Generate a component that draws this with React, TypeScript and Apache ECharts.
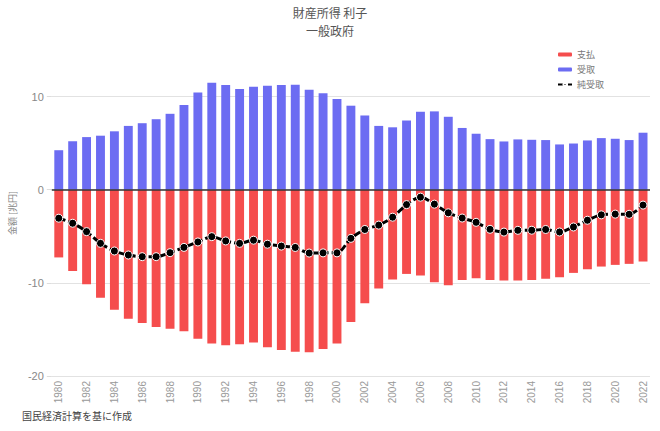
import React, { useEffect, useRef } from 'react';
import * as echarts from 'echarts';

const years = [
  '1980', '1981', '1982', '1983', '1984', '1985', '1986', '1987', '1988', '1989',
  '1990', '1991', '1992', '1993', '1994', '1995', '1996', '1997', '1998', '1999',
  '2000', '2001', '2002', '2003', '2004', '2005', '2006', '2007', '2008', '2009',
  '2010', '2011', '2012', '2013', '2014', '2015', '2016', '2017', '2018', '2019',
  '2020', '2021', '2022'
];

// 支払 (negative side)
const payments = [
  -7.27, -8.74, -10.14, -11.6, -12.88, -13.85, -14.3, -14.75, -14.93, -15.2,
  -16.0, -16.5, -16.7, -16.6, -16.4, -16.9, -17.2, -17.4, -17.45, -17.1,
  -16.5, -14.2, -12.2, -10.6, -9.64, -9.04, -9.2, -9.93, -10.25, -9.68,
  -9.5, -9.68, -9.75, -9.75, -9.7, -9.57, -9.39, -8.93, -8.54, -8.25,
  -8.07, -7.96, -7.71
];

// 受取
const receipts = [
  4.24, 5.2, 5.65, 5.8, 6.27, 6.85, 7.14, 7.57, 8.15, 9.1,
  10.43, 11.49, 11.23, 10.8, 11.05, 11.16, 11.23, 11.27, 10.72, 10.36,
  9.75, 9.02, 7.97, 6.85, 6.7, 7.43, 8.37, 8.41, 7.83, 6.63,
  6.01, 5.43, 5.18, 5.4, 5.36, 5.33, 4.86, 4.96, 5.29, 5.54,
  5.47, 5.33, 6.12
];

// 純受取
const net = [
  -3.06, -3.6, -4.5, -5.76, -6.58, -7.01, -7.19, -7.19, -6.76, -6.19,
  -5.61, -5.04, -5.5, -5.76, -5.42, -5.85, -6.05, -6.2, -6.8, -6.78,
  -6.78, -5.22, -4.27, -3.8, -2.95, -1.6, -0.8, -1.55, -2.48, -3.04,
  -3.5, -4.25, -4.55, -4.36, -4.35, -4.27, -4.54, -4.0, -3.28, -2.7,
  -2.62, -2.64, -1.65
];

const FONT = '"Noto Sans CJK JP", "Noto Sans", sans-serif';

const App = () => {
  const chartRef = useRef(null);

  useEffect(() => {
    if (!chartRef.current) return;
    document.body.style.margin = '0';
    const chart = echarts.init(chartRef.current, null, { renderer: 'svg' });

    const option = {
      animation: false,
      textStyle: { fontFamily: FONT },
      title: {
        text: '財産所得 利子\n一般政府',
        left: 'center',
        top: 3,
        padding: 0,
        textStyle: {
          fontFamily: FONT,
          fontSize: 12,
          fontWeight: 'normal',
          color: '#555',
          lineHeight: 18,
          align: 'center'
        }
      },
      legend: {
        orient: 'vertical',
        left: 552,
        top: 45,
        itemWidth: 14,
        itemHeight: 4,
        itemGap: 6,
        textStyle: { fontFamily: FONT, fontSize: 9, color: '#777' },
        data: [
          { name: '支払', icon: 'roundRect' },
          { name: '受取', icon: 'roundRect' },
          { name: '純受取' }
        ]
      },
      grid: { left: 48, right: 10, top: 50, bottom: 55 },
      xAxis: {
        type: 'category',
        data: years,
        axisLine: { show: false, onZero: false },
        axisTick: { show: false },
        axisLabel: {
          interval: 1,
          rotate: 90,
          fontSize: 10,
          color: '#999',
          margin: 5,
          fontFamily: 'Liberation Sans, sans-serif'
        }
      },
      yAxis: {
        type: 'value',
        min: -20,
        max: 15,
        interval: 10,
        name: '金額 [兆円]',
        nameLocation: 'middle',
        nameGap: 28,
        nameRotate: 90,
        nameTextStyle: { fontFamily: FONT, fontSize: 9, color: '#888' },
        axisLine: { show: false },
        axisTick: { show: true, length: 5, lineStyle: { color: '#ddd' } },
        axisLabel: {
          showMaxLabel: false,
          fontSize: 11,
          color: '#888',
          margin: 8,
          fontFamily: 'Liberation Sans, sans-serif'
        },
        splitLine: { showMaxLine: false, lineStyle: { color: '#e2e2e2' } }
      },
      series: [
        {
          name: '支払',
          type: 'bar',
          stack: 'total',
          barWidth: '64%',
          data: payments,
          itemStyle: { color: '#f54d4d' }
        },
        {
          name: '受取',
          type: 'bar',
          stack: 'total',
          barWidth: '64%',
          data: receipts,
          itemStyle: { color: '#6c6cf2' }
        },
        {
          name: '純受取',
          type: 'line',
          data: net,
          smooth: 0.3,
          symbol: 'circle',
          symbolSize: 8,
          lineStyle: { color: '#000', width: 3, type: [7, 3] },
          itemStyle: { color: '#000', borderColor: '#fff', borderWidth: 1 },
          markLine: {
            silent: true,
            symbol: 'none',
            label: { show: false },
            lineStyle: { color: '#333', width: 1.5, type: 'solid' },
            data: [{ yAxis: 0 }]
          },
          z: 5
        }
      ],
      graphic: [
        {
          type: 'text',
          left: 22,
          top: 410,
          style: {
            text: '国民経済計算を基に作成',
            fontFamily: FONT,
            fontSize: 10,
            fill: '#444'
          }
        }
      ]
    };

    chart.setOption(option);

    const resizeHandler = () => chart.resize();
    window.addEventListener('resize', resizeHandler);

    return () => {
      window.removeEventListener('resize', resizeHandler);
      chart.dispose();
    };
  }, []);

  return <div ref={chartRef} style={{ width: '660px', height: '431px' }} />;
};

export default App;
